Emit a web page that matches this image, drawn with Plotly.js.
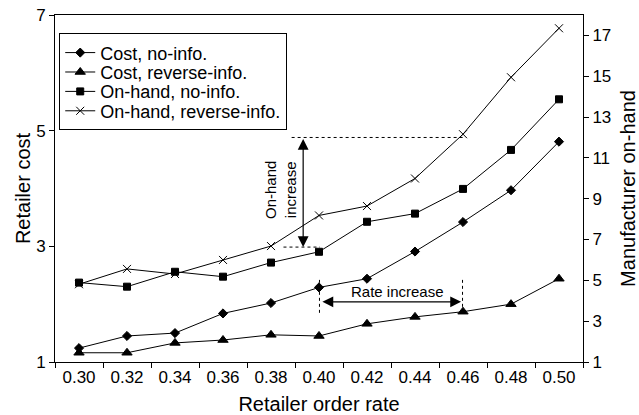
<!DOCTYPE html>
<html>
<head>
<meta charset="utf-8">
<script src="https://cdn.plot.ly/plotly-3.0.1.min.js"></script>
<style>
  html, body { margin: 0; padding: 0; background: #fff; }
  #chart { width: 639px; height: 415px; }
</style>
</head>
<body>
<div id="chart"></div>
<script>
// ---- data ----
const orderRates = ["0.30", "0.32", "0.34", "0.36", "0.38", "0.40", "0.42", "0.44", "0.46", "0.48", "0.50"];
const costNoInfo = [1.24, 1.45, 1.50, 1.84, 2.02, 2.29, 2.44, 2.91, 3.42, 3.97, 4.81];
const costReverseInfo = [1.16, 1.16, 1.33, 1.38, 1.47, 1.45, 1.66, 1.78, 1.87, 2.00, 2.44];
const onHandNoInfo = [4.89, 4.69, 5.42, 5.18, 5.87, 6.40, 7.87, 8.27, 9.48, 11.39, 13.87];
const onHandReverseInfo = [4.81, 5.56, 5.31, 6.00, 6.68, 8.18, 8.64, 9.99, 12.16, 14.95, 17.35];
const leftTicks = [1, 3, 5, 7];
const rightTicks = [1, 3, 5, 7, 9, 11, 13, 15, 17];

const FONT = "Liberation Sans, Arial, Helvetica, sans-serif";
const BLACK = "#000000";

function series(name, y, symbol, size, axis) {
  return {
    type: "scatter",
    mode: "lines+markers",
    name: name,
    x: orderRates,
    y: y,
    yaxis: axis,
    line: { color: BLACK, width: 1 },
    marker: { symbol: symbol, size: size, color: BLACK, line: { color: BLACK, width: 1 } }
  };
}

const traces = [
  series("Cost, no-info.", costNoInfo, "diamond", 7, "y"),
  series("Cost, reverse-info.", costReverseInfo, "triangle-up", 9, "y"),
  series("On-hand, no-info.", onHandNoInfo, "square", 7, "y2"),
  series("On-hand, reverse-info.", onHandReverseInfo, "x-thin-open", 8, "y2")
];

// annotation geometry (category index units on x)
const onHandArrowX = 4.67, onHandTop = 12.0, onHandBottom = 6.63;
const rateY = 2.04, rateX0 = 5.01, rateX1 = 7.99;

const dotted = { color: BLACK, width: 1, dash: "dot" };

const layout = {
  width: 639,
  height: 415,
  margin: { l: 55, r: 56, t: 15, b: 53 },
  paper_bgcolor: "#ffffff",
  plot_bgcolor: "#ffffff",
  font: { family: FONT, color: BLACK, size: 17 },
  showlegend: true,
  legend: {
    x: 0.008, y: 0.947, xanchor: "left", yanchor: "top",
    bgcolor: "#ffffff", bordercolor: BLACK, borderwidth: 1,
    font: { family: FONT, size: 18, color: BLACK },
    itemwidth: 30,
    tracegroupgap: 0
  },
  xaxis: {
    type: "category",
    categoryorder: "array",
    categoryarray: orderRates,
    range: [-0.5, 10.5],
    tickson: "boundaries",
    ticks: "outside", ticklen: 5, tickwidth: 1, tickcolor: BLACK,
    showline: true, linecolor: BLACK, linewidth: 1, mirror: true,
    showgrid: false, zeroline: false,
    tickfont: { family: FONT, size: 17, color: BLACK },
    title: { text: "Retailer order rate", font: { family: FONT, size: 20, color: BLACK }, standoff: 10 }
  },
  yaxis: {
    range: [1, 7],
    tickvals: leftTicks,
    ticktext: leftTicks.map(String),
    ticks: "outside", ticklen: 5, tickwidth: 1, tickcolor: BLACK,
    showline: true, linecolor: BLACK, linewidth: 1,
    showgrid: false, zeroline: false,
    tickfont: { family: FONT, size: 17, color: BLACK },
    title: { text: "Retailer cost", font: { family: FONT, size: 20, color: BLACK }, standoff: 0 }
  },
  yaxis2: {
    overlaying: "y",
    side: "right",
    range: [1, 18],
    tickvals: rightTicks,
    ticktext: rightTicks.map(String),
    ticks: "outside", ticklen: 5, tickwidth: 1, tickcolor: BLACK,
    showline: true, linecolor: BLACK, linewidth: 1,
    showgrid: false, zeroline: false,
    tickfont: { family: FONT, size: 17, color: BLACK },
    title: { text: "Manufacturer on-hand", font: { family: FONT, size: 20, color: BLACK }, standoff: 19 }
  },
  shapes: [
    { type: "line", xref: "x", yref: "y2", x0: 4.43, x1: 8.05, y0: onHandTop, y1: onHandTop, line: dotted },
    { type: "line", xref: "x", yref: "y2", x0: 4.26, x1: 5.02, y0: onHandBottom, y1: onHandBottom, line: dotted },
    { type: "line", xref: "x", yref: "y", x0: rateX0, x1: rateX0, y0: 1.85, y1: 2.42, line: dotted },
    { type: "line", xref: "x", yref: "y", x0: rateX1, x1: rateX1, y0: 1.85, y1: 2.42, line: dotted }
  ],
  annotations: [
    {
      xref: "x", yref: "y2", axref: "x", ayref: "y2",
      x: onHandArrowX, y: onHandBottom, ax: onHandArrowX, ay: onHandTop,
      text: "", showarrow: true, arrowside: "end+start",
      arrowhead: 2, arrowsize: 1.8, arrowwidth: 1.2, arrowcolor: BLACK
    },
    {
      xref: "x", yref: "y2", x: 4.21, y: 9.43,
      text: "On-hand<br>increase", textangle: -90, showarrow: false,
      font: { family: FONT, size: 15, color: BLACK }
    },
    {
      xref: "x", yref: "y", axref: "x", ayref: "y",
      x: rateX1 - 0.03, y: rateY, ax: rateX0 + 0.03, ay: rateY,
      text: "", showarrow: true, arrowside: "end+start",
      arrowhead: 2, arrowsize: 1.8, arrowwidth: 1.2, arrowcolor: BLACK
    },
    {
      xref: "x", yref: "y", x: 6.63, y: 2.22,
      text: "Rate increase", showarrow: false,
      font: { family: FONT, size: 15, color: BLACK }
    }
  ]
};

// tighter legend rows, as in the reference
const LEGEND_ROW = 19.4;
function tightenLegend(gd) {
  const items = gd.querySelectorAll(".legend .traces");
  if (items.length < 2) return;
  const parse = el => {
    const m = /translate\(\s*([-\d.]+)[ ,]+([-\d.]+)\s*\)/.exec(el.getAttribute("transform") || "");
    return m ? [parseFloat(m[1]), parseFloat(m[2])] : [0, 0];
  };
  const first = parse(items[0]);
  const lastOld = parse(items[items.length - 1])[1];
  let lastNew = first[1];
  items.forEach((el, i) => {
    const p = parse(el);
    lastNew = first[1] + i * LEGEND_ROW;
    el.setAttribute("transform", "translate(" + p[0] + "," + lastNew + ")");
  });
  const bg = gd.querySelector(".legend rect.bg");
  if (bg) {
    const h = parseFloat(bg.getAttribute("height"));
    bg.setAttribute("height", h - (lastOld - lastNew));
  }
}

Plotly.newPlot("chart", traces, layout, { staticPlot: true, displayModeBar: false })
  .then(tightenLegend);
</script>
</body>
</html>
